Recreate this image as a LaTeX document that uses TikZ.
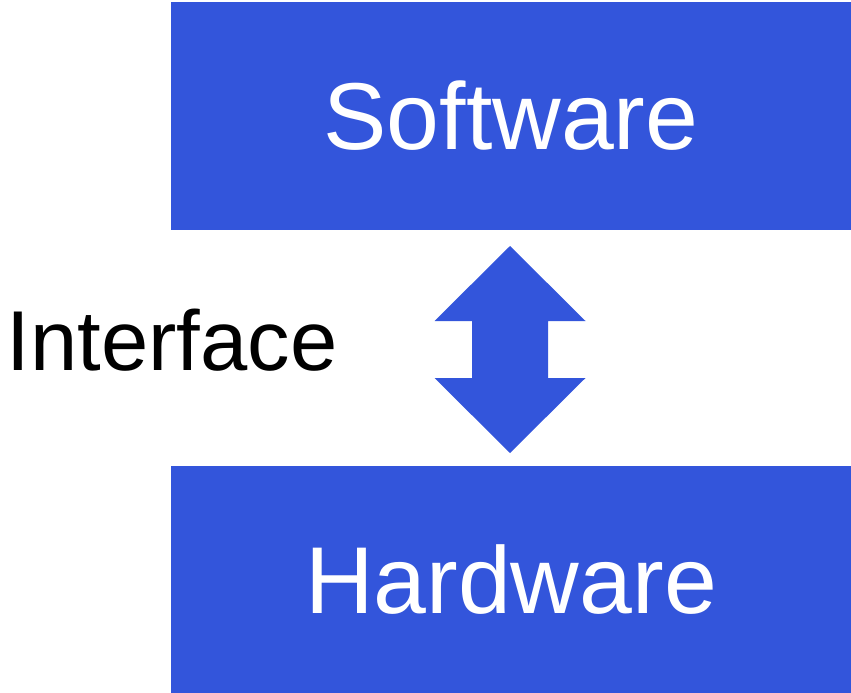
\documentclass[tikz,border=0pt]{standalone}
\usepackage{fontspec}
\setmainfont{Liberation Sans}
\usetikzlibrary{positioning}
\definecolor{layerBlue}{RGB}{51,85,219}

\begin{document}
\begin{tikzpicture}[x=1pt, y=-1pt,
    layer/.style={rectangle, fill=layerBlue, text=white, inner sep=0pt,
        minimum width=680pt, minimum height=227pt, font=\fontsize{95}{95}\selectfont}]
    \useasboundingbox (0,0) rectangle (851,693);

    % Layers
    \node[layer] (sw) at (511,116) {Software};
    \node[layer] (hw) at (511,579.5) {Hardware};

    % Interface arrow
    \coordinate (up) at (510,246);
    \coordinate (down) at (510,453);
    \fill[layerBlue] (up) -- (585.5,321) -- (548,321) -- (548,378) -- (585.5,378)
        -- (down) -- (434.5,378) -- (472,378) -- (472,321) -- (434.5,321) -- cycle;

    % Label
    \node[anchor=base, inner sep=0pt, font=\fontsize{85}{85}\selectfont] (iface) at (172,370) {Interface};
\end{tikzpicture}
\end{document}
